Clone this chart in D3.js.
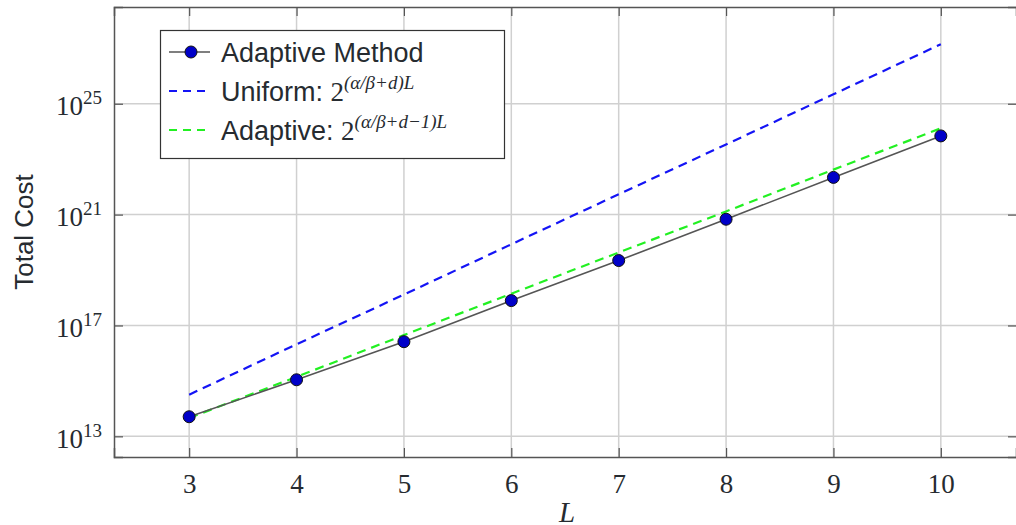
<!DOCTYPE html>
<html>
<head>
<meta charset="utf-8">
<script src="https://cdn.jsdelivr.net/npm/d3@7"></script>
<style>
body { margin: 0; background: #fff; }
svg { display: block; }
text { fill: #262b30; }
</style>
</head>
<body>
<svg width="1016" height="525"></svg>
<script>
// level L on the x axis
const levels = [3, 4, 5, 6, 7, 8, 9, 10];
// measured total cost of the adaptive method
const adaptiveMethod = [5.1e13, 1.1e15, 2.6e16, 7.9e17, 2.2e19, 6.8e20, 2.2e22, 6.9e23];
// reference rates
const uniformRate = [3.2e14, 2.1e16, 1.3e18, 8.5e19, 5.4e21, 3.4e23, 2.2e25, 1.4e27];
const adaptiveRate = [4.6e13, 1.4e15, 4.5e16, 1.4e18, 4.3e19, 1.3e21, 4.2e22, 1.3e24];
// tick labels
const xTicks = [3, 4, 5, 6, 7, 8, 9, 10];
const yTickExps = [13, 17, 21, 25];

const svg = d3.select('svg');
const width = +svg.attr('width');
const height = +svg.attr('height');

const margin = {top: 7, right: 0, bottom: 68, left: 114};
const innerWidth = width - margin.left - margin.right;
const innerHeight = height - margin.top - margin.bottom;

const serif = '"Liberation Serif", "DejaVu Serif", serif';
const sans = '"Liberation Sans", Arial, sans-serif';

const xScale = d3.scaleLinear()
	.domain([2.3, 10.7])
	.range([0, innerWidth]);

const yScale = d3.scaleLog()
	.domain([Math.pow(10, 12.255), Math.pow(10, 28.49)])
	.range([innerHeight, 0]);

const yTicks = yTickExps.map(e => Math.pow(10, e));

const g = svg.append('g')
	.attr('transform', `translate(${margin.left}, ${margin.top})`);

// grid
g.append('g').selectAll('line').data(xTicks)
	.enter().append('line')
		.attr('x1', d => xScale(d)).attr('x2', d => xScale(d))
		.attr('y1', 0).attr('y2', innerHeight)
		.attr('stroke', '#d0d0d0').attr('stroke-width', 1.5);

g.append('g').selectAll('line').data(yTicks)
	.enter().append('line')
		.attr('y1', d => yScale(d)).attr('y2', d => yScale(d))
		.attr('x1', 0).attr('x2', innerWidth)
		.attr('stroke', '#d0d0d0').attr('stroke-width', 1.5);

// axes
const xAxis = d3.axisBottom(xScale)
	.tickValues(xTicks)
	.tickSize(-9)
	.tickPadding(17);

const yAxis = d3.axisLeft(yScale)
	.tickValues(yTicks)
	.tickSize(-9);

const xAxisG = g.append('g')
	.attr('transform', `translate(0, ${innerHeight})`)
	.call(xAxis);

xAxisG.selectAll('.tick text')
	.attr('font-family', serif)
	.attr('font-size', 27)
	.attr('fill', '#262b30');

const yAxisG = g.append('g').call(yAxis);
yAxisG.selectAll('.tick text').remove();

yAxisG.selectAll('.tick').each(function(d) {
	const t = d3.select(this).append('text')
		.attr('x', -12)
		.attr('y', 11)
		.attr('text-anchor', 'end')
		.attr('font-family', serif)
		.attr('fill', '#262b30');
	t.append('tspan').attr('font-size', 27).text('10');
	t.append('tspan').attr('font-size', 19).attr('dy', -11).text(Math.round(Math.log10(d)));
});

// top and right frame ticks
const topG = g.append('g').call(d3.axisTop(xScale).tickValues(xTicks).tickSize(-9));
const rightG = g.append('g').attr('transform', `translate(${innerWidth + 1}, 0)`)
	.call(d3.axisRight(yScale).tickValues(yTicks).tickSize(-9));
topG.selectAll('.tick text').remove();
rightG.selectAll('.tick text').remove();

g.selectAll('.domain').attr('stroke', '#555').attr('stroke-width', 1.5);
g.selectAll('.tick line').attr('stroke', '#555').attr('stroke-width', 1.2);

// axis labels
svg.append('text')
	.attr('transform', `translate(33, ${margin.top + innerHeight / 2}) rotate(-90)`)
	.attr('text-anchor', 'middle')
	.attr('font-family', sans)
	.attr('font-size', 26)
	.text('Total Cost');

svg.append('text')
	.attr('x', margin.left + innerWidth / 2 + 2)
	.attr('y', 522)
	.attr('text-anchor', 'middle')
	.attr('font-family', serif)
	.attr('font-style', 'italic')
	.attr('font-size', 29)
	.text('L');

// lines
const lineOf = values => d3.line()
	.x((d, i) => xScale(levels[i]))
	.y(d => yScale(d))(values);

g.append('path')
	.attr('d', lineOf(uniformRate))
	.attr('fill', 'none')
	.attr('stroke', '#1414f5')
	.attr('stroke-width', 2.2)
	.attr('stroke-dasharray', '9,6');

g.append('path')
	.attr('d', lineOf(adaptiveRate))
	.attr('fill', 'none')
	.attr('stroke', '#22f022')
	.attr('stroke-width', 2.2)
	.attr('stroke-dasharray', '9,6');

g.append('path')
	.attr('d', lineOf(adaptiveMethod))
	.attr('fill', 'none')
	.attr('stroke', '#555')
	.attr('stroke-width', 1.6);

g.selectAll('circle').data(adaptiveMethod)
	.enter().append('circle')
		.attr('cx', (d, i) => xScale(levels[i]))
		.attr('cy', d => yScale(d))
		.attr('r', 6)
		.attr('fill', '#0000c8')
		.attr('stroke', '#111')
		.attr('stroke-width', 1);

// legend
const legend = svg.append('g');
legend.append('rect')
	.attr('x', 160.5).attr('y', 30.5)
	.attr('width', 344).attr('height', 128)
	.attr('fill', '#fff')
	.attr('stroke', '#333')
	.attr('stroke-width', 1.2);

const rows = [
	{y: 52, kind: 'marker', label: 'Adaptive Method'},
	{y: 91, kind: 'dash', color: '#1414f5', label: 'Uniform: ', base: '2', sup: '(α/β+d)L'},
	{y: 130, kind: 'dash', color: '#22f022', label: 'Adaptive: ', base: '2', sup: '(α/β+d−1)L'}
];

rows.forEach(r => {
	if (r.kind === 'marker') {
		legend.append('line')
			.attr('x1', 169).attr('x2', 210).attr('y1', r.y).attr('y2', r.y)
			.attr('stroke', '#555').attr('stroke-width', 1.6);
		legend.append('circle')
			.attr('cx', 191).attr('cy', r.y).attr('r', 6)
			.attr('fill', '#0000c8').attr('stroke', '#111');
	} else {
		legend.append('line')
			.attr('x1', 169).attr('x2', 210).attr('y1', r.y).attr('y2', r.y)
			.attr('stroke', r.color).attr('stroke-width', 2.2)
			.attr('stroke-dasharray', '8,6');
	}
	const t = legend.append('text')
		.attr('x', 221)
		.attr('y', r.y + 10)
		.attr('font-family', sans)
		.attr('font-size', 27);
	t.append('tspan').text(r.label);
	if (r.base) {
		t.append('tspan').attr('font-family', serif).text(r.base);
		t.append('tspan')
			.attr('font-family', serif)
			.attr('font-style', 'italic')
			.attr('font-size', 19)
			.attr('dy', -12)
			.text(r.sup);
	}
});
</script>
</body>
</html>
